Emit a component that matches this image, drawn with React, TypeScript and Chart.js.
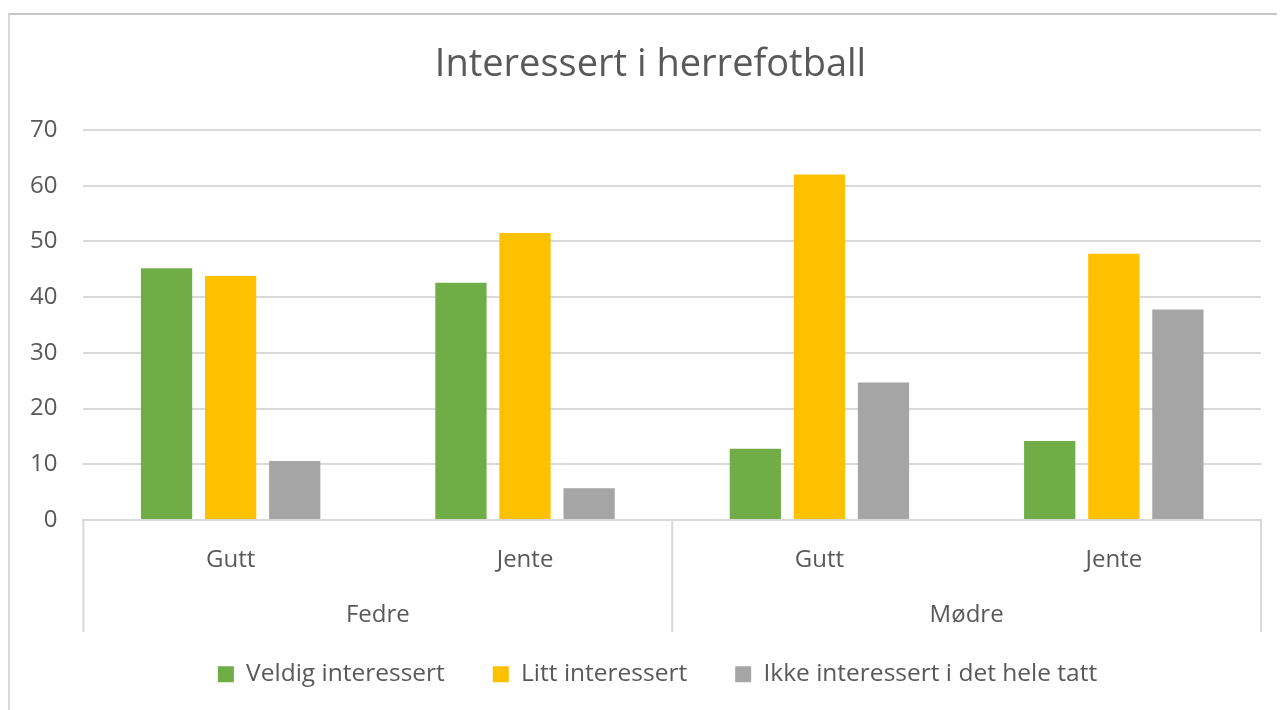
import React, { useEffect, useRef } from "react";
import { Chart, registerables } from "chart.js";

Chart.register(...registerables);

const title = "Interessert i herrefotball";
const subCategories = ["Gutt", "Jente", "Gutt", "Jente"];
const groups = ["Fedre", "Mødre"];
const seriesNames = ["Veldig interessert", "Litt interessert", "Ikke interessert i det hele tatt"];
const veldig = [45.2, 42.6, 12.8, 14.2];
const litt = [43.8, 51.5, 62.0, 47.8];
const ikke = [10.6, 5.7, 24.7, 37.8];
const colors = ["#70AD47", "#FFC000", "#A5A5A5"];
const yTicks = [0, 10, 20, 30, 40, 50, 60, 70];

const FONT = "'Open Sans', 'Noto Sans', sans-serif";
const TEXT = "#595959";
const LINE = "#d9d9d9";
const SEPARATOR_EXTENSION = 2;
const LEGEND_DX = 25;
const LEGEND_DY = -16;
const TITLE_DX = 18;

const separatorPlugin = {
  id: "separators",
  afterDraw(chart: any) {
    const x = chart.scales.x;
    const x2 = chart.scales.x2;
    if (!x || !x2) return;
    const ctx = chart.ctx;
    const mid = (x.getPixelForValue(1) + x.getPixelForValue(2)) / 2;
    const xs = [x.left, mid, x.right];
    ctx.save();
    ctx.strokeStyle = LINE;
    ctx.lineWidth = 2;
    ctx.beginPath();
    for (const px of xs) {
      ctx.moveTo(px, x.top);
      ctx.lineTo(px, x2.bottom + SEPARATOR_EXTENSION);
    }
    ctx.stroke();
    ctx.restore();
  },
};

const boxShiftPlugin = {
  id: "boxShift",
  afterLayout(chart: any) {
    const l = chart.legend;
    if (l) {
      l.left += LEGEND_DX;
      l.right += LEGEND_DX;
      l.top += LEGEND_DY;
      l.bottom += LEGEND_DY;
    }
    const t = chart.titleBlock;
    if (t) {
      t.left += TITLE_DX;
      t.right += TITLE_DX;
    }
  },
};

export default function App() {
  const ref = useRef<HTMLCanvasElement | null>(null);
  useEffect(() => {
    if (!ref.current) return;
    const data = [veldig, litt, ikke];
    const chart = new Chart(ref.current, {
      type: "bar",
      data: {
        labels: subCategories,
        datasets: seriesNames.map((name, i) => ({
          label: name,
          data: data[i],
          backgroundColor: colors[i],
          borderWidth: 0,
          categoryPercentage: 0.653,
          barPercentage: 0.8,
          xAxisID: "x",
        })),
      },
      options: {
        animation: false,
        responsive: true,
        maintainAspectRatio: false,
        layout: { padding: { left: -6, right: 24, top: 0, bottom: -2.5 } },
        plugins: {
          title: {
            display: true,
            text: title,
            color: TEXT,
            font: { family: FONT, size: 38, weight: "normal", lineHeight: 1.2 },
            padding: { top: 27.7, bottom: 41.7 },
          },
          legend: {
            position: "bottom",
            labels: {
              color: TEXT,
              font: { family: FONT, size: 24.5 },
              boxWidth: 16,
              boxHeight: 16,
              padding: 48,
            },
          },
          tooltip: { enabled: false },
        },
        scales: {
          x: {
            type: "category",
            position: "bottom",
            grid: { display: false, drawTicks: false },
            border: { display: true, color: LINE, width: 2 },
            ticks: { color: TEXT, font: { family: FONT, size: 24, lineHeight: 1.0 }, padding: 28 },
          },
          x2: {
            type: "category",
            position: "bottom",
            labels: groups,
            offset: true,
            grid: { display: false, drawTicks: false },
            border: { display: false },
            ticks: { color: TEXT, font: { family: FONT, size: 24, lineHeight: 1.0 }, padding: 3 },
          },
          y: {
            min: 0,
            max: 70,
            afterBuildTicks: (axis: any) => {
              axis.ticks = yTicks.map((v) => ({ value: v }));
            },
            grid: { color: LINE, lineWidth: 2, drawTicks: false },
            border: { display: false },
            ticks: { color: TEXT, font: { family: FONT, size: 24 }, padding: 26 },
          },
        },
      },
      plugins: [separatorPlugin, boxShiftPlugin],
    });
    return () => chart.destroy();
  }, []);
  return (
    <div
      style={{
        marginTop: 5,
        width: 1277,
        height: 697,
        borderTop: "2px solid #c6c6c6",
        borderLeft: "2px solid #d9d9d9",
        background: "#fff",
        boxSizing: "border-box",
      }}
    >
      <div style={{ width: 1275, height: 695, position: "relative" }}>
        <canvas ref={ref} />
      </div>
    </div>
  );
}
